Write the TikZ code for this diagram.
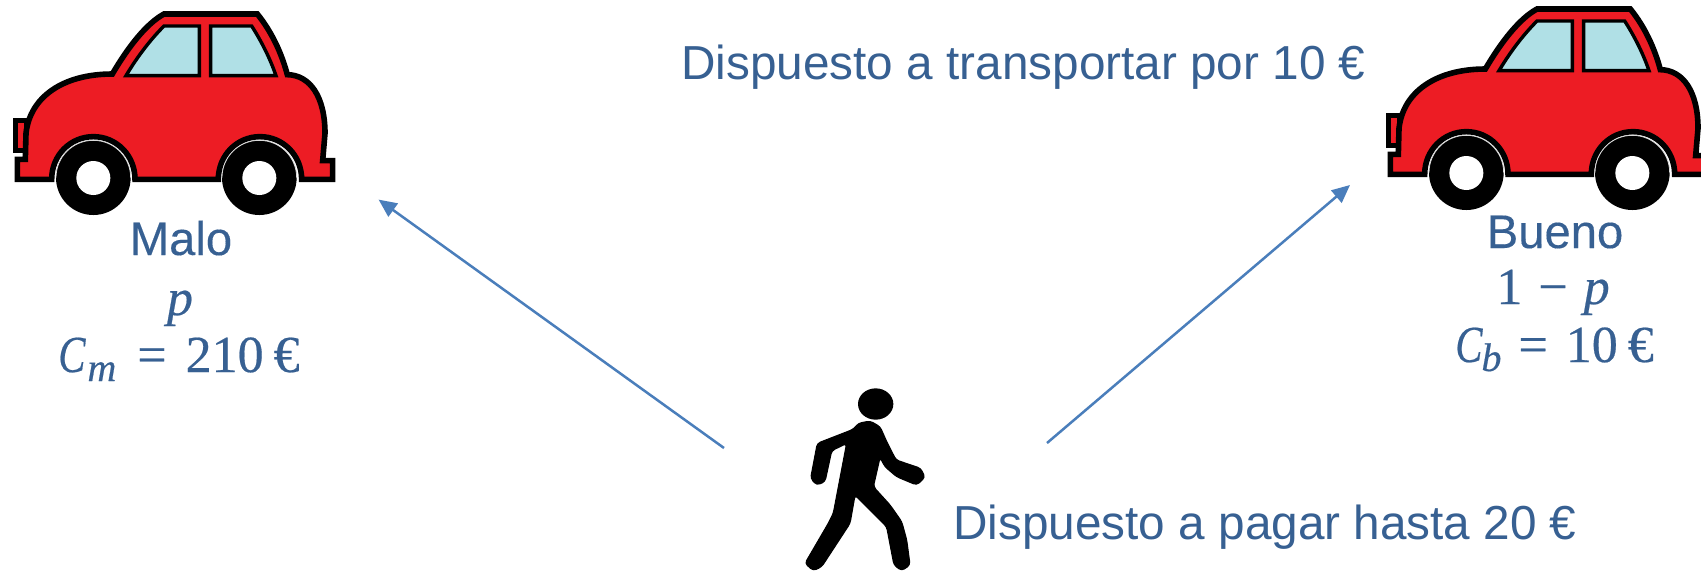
\documentclass[tikz,border=0pt]{standalone}
\usepackage{fontspec}
\setmainfont{Liberation Sans}
\newfontfamily\heavysans[FakeBold=0.25]{Liberation Sans}
\newfontfamily\mathserif[FakeBold=0.4]{Liberation Serif}
\usetikzlibrary{arrows.meta}
\definecolor{txtblue}{HTML}{376092}
\definecolor{arrowblue}{HTML}{4A7EBB}
\definecolor{carred}{HTML}{ED1C24}
\definecolor{glass}{HTML}{B0E0E6}
\tikzset{
  label text/.style={text=txtblue,font=\fontsize{23.85}{28}\selectfont,inner sep=0pt,anchor=base},
  car label/.style={text=txtblue,font=\heavysans\fontsize{23.6}{28}\selectfont,inner sep=0pt,anchor=base},
  formula/.style={text=txtblue,font=\mathserif\fontsize{26}{30}\selectfont,inner sep=0pt,anchor=base west},
  choice/.style={draw=arrowblue,line width=1.25pt,-{Triangle[length=9pt,width=8pt]}},
  carline/.style={draw=black,line width=2.8pt,line join=miter},
}
\newcommand{\subs}[1]{\raisebox{-4.5pt}{\fontsize{20}{22}\selectfont #1}}
\newcommand{\capC}{\scalebox{0.78}[1]{\itshape C}}
\newcommand{\carshape}{%
  \path[draw=black,line width=2.2pt,fill=carred] (47,362) -- (78,362) -- (78,452) -- (47,452) -- cycle;
  \path[carline,fill=carred] (52,538) -- (52,478) -- (76,478) -- (78,400)
    .. controls (90,290) and (190,222) .. (337,222)
    .. controls (385,140) and (440,70) .. (492,42) -- (772,42)
    .. controls (815,95) and (845,160) .. (862,224)
    .. controls (930,225) and (975,290) .. (975,400)
    -- (968,482) -- (998,482) -- (998,538) -- (905,538)
    .. controls (905,466) and (849,410) .. (780,410)
    .. controls (711,410) and (655,466) .. (655,538)
    -- (405,538)
    .. controls (405,466) and (349,410) .. (280,410)
    .. controls (211,410) and (155,466) .. (155,538) -- cycle;
  \path[draw=black,line width=1.7pt,fill=glass] (378,227) .. controls (415,165) and (455,115) .. (492,78) -- (598,78) -- (598,227) -- cycle;
  \path[draw=black,line width=1.7pt,fill=glass] (632,78) -- (755,78) .. controls (785,125) and (810,175) .. (828,227) -- (632,227) -- cycle;
  \foreach \wx in {280,778}{
    \fill[black] (\wx,533) circle[radius=112];
    \draw[white!85!black,line width=.4pt] (\wx-112,533) .. controls (\wx-112,471) and (\wx-62,421) .. (\wx,421) .. controls (\wx+62,421) and (\wx+112,471) .. (\wx+112,533);
    \fill[white] (\wx,534) circle[radius=51];
  }
}
\begin{document}
\begin{tikzpicture}[x=0.5pt,y=-0.5pt]
\useasboundingbox (0,0) rectangle (1701,570);
\fill[white] (0,0) rectangle (1701,570);
% cars
\begin{scope}[scale=1/3]
  \carshape
\end{scope}
\begin{scope}
  \clip (0,0) rectangle (1701,570);
  \begin{scope}[shift={(1373,-5)},scale=1/3]
    \carshape
  \end{scope}
\end{scope}
% walker
\begin{scope}[shift={(790,380)},scale=1/3]
  \fill[black] (257,72) ellipse[x radius=53,y radius=47];
  \path[fill=black,draw=black,line width=.6pt,line join=round,rounded corners=1.6pt] (205,130) -- (240,123) -- (270,140) -- (290,185) -- (318,240)
    -- (392,265) -- (405,292) -- (380,315) -- (320,290) -- (285,260) -- (270,232)
    -- (250,320) -- (300,375) -- (335,425) -- (350,480) -- (360,555) -- (335,572) -- (312,555)
    -- (290,440) -- (195,345) -- (180,430) -- (95,560) -- (70,572) -- (45,550) -- (115,430)
    -- (130,400) -- (170,190) -- (125,212) -- (105,305) -- (80,315) -- (62,295) -- (82,190) -- (190,148) -- cycle;
\end{scope}
% texts
\node[label text,anchor=base west] (transport) at (681,79) {Dispuesto a transportar por 10 €};
\node[label text,anchor=base west] (pay) at (953,539) {Dispuesto a pagar hasta 20 €};
\node[car label] (malo) at (181,255) {Malo};
\node[formula,anchor=base] (pm) at (180,315) {\itshape p};
\node[formula] (cm) at (58,372) {\capC\kern1pt\subs{\itshape m}\upshape\kern10.5pt =\kern9.5pt 210\kern5pt €};
\node[car label] (bueno) at (1555,248) {Bueno};
\node[formula] (pb) at (1496,304) {1\kern8pt −\kern8pt\itshape p};
\node[formula] (cb) at (1455,362) {\capC\kern-0.5pt\subs{\itshape b}\upshape\kern8.5pt =\kern9pt 10\kern5pt €};
% connectors
\coordinate (walkerL) at (724,448);
\coordinate (carL) at (378.6,199.6);
\coordinate (walkerR) at (1047,443);
\coordinate (carR) at (1350,185);
\draw[choice] (walkerL) -- (carL);
\draw[choice] (walkerR) -- (carR);
\end{tikzpicture}
\end{document}
